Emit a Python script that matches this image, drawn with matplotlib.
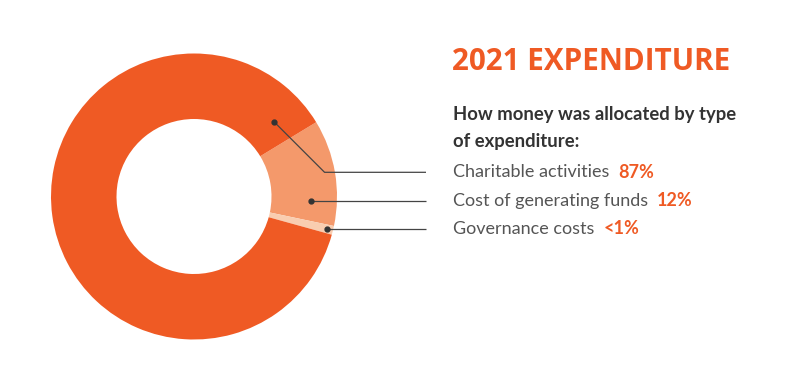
import numpy as np
import matplotlib
matplotlib.use("Agg")
import matplotlib.pyplot as plt

# data
categories = ["Charitable activities", "Cost of generating funds", "Governance costs"]
shares = [87, 12, 1]
share_labels = ["87%", "12%", "<1%"]
title = "2021 EXPENDITURE"
subtitle = "How money was allocated by type\nof expenditure:"

# pie order drawn clockwise from the upper right
pie_order = [1, 2, 0]

ORANGE = "#EF5A24"
colors = {0: ORANGE, 1: "#F4996B", 2: "#F9CDB0"}
TEXT_DARK = "#333333"
TEXT_GREY = "#555555"
LINE = "#444444"

W, H = 800, 390
fig = plt.figure(figsize=(W / 100, H / 100), dpi=100)
ax = fig.add_axes([0, 0, 1, 1])

cx, cy = 194, H - 196.5
R, ring = 143, 65.5

ax.pie([shares[i] for i in pie_order],
       colors=[colors[i] for i in pie_order],
       startangle=31.3, counterclock=False,
       radius=R, center=(cx, cy),
       wedgeprops=dict(width=ring, linewidth=0))
ax.set_xlim(0, W)
ax.set_ylim(0, H)
ax.set_aspect("equal")
ax.axis("off")

# leader dots: (angle deg, radius) within each slice
dot_pos = [(43, 109.5), (-1.9, 117), (-13.8, 136.6)]
row_y = [172.3, 200.7, 229.0]
line_end = 426
text_x = 453

for i, (ang, rr) in enumerate(dot_pos):
    dx = cx + rr * np.cos(np.radians(ang))
    dy = cy + rr * np.sin(np.radians(ang))
    ty = H - row_y[i]
    if abs(dy - ty) > 3:
        ex = dx + (dy - ty)
        xs, ys = [dx, ex, line_end], [dy, ty, ty]
    else:
        xs, ys = [dx, line_end], [ty, ty]
        dy = ty
    ax.plot(xs, ys, color=LINE, lw=0.9, solid_capstyle="butt", zorder=3)
    ax.plot(dx, dy, "o", color="#333333", ms=3.5, zorder=4)

    t = ax.text(text_x, ty, categories[i], fontsize=13, family="Lato",
                fontweight="normal", color=TEXT_GREY, va="center", ha="left")
    fig.canvas.draw()
    bb = t.get_window_extent()
    ax.text(bb.x1 + 9, ty, share_labels[i], fontsize=13, family="Lato",
            fontweight="bold", color=ORANGE, va="center", ha="left")

ax.text(text_x - 1, H - 62, title, fontsize=21.3, family="Open Sans", fontweight="bold",
        color=ORANGE, va="center", ha="left")
ax.text(text_x, H - 106, subtitle, fontsize=13.3, family="Lato", fontweight="bold",
        color=TEXT_DARK, va="top", ha="left", linespacing=1.72)

fig.savefig("out.png", dpi=100, facecolor="white")
